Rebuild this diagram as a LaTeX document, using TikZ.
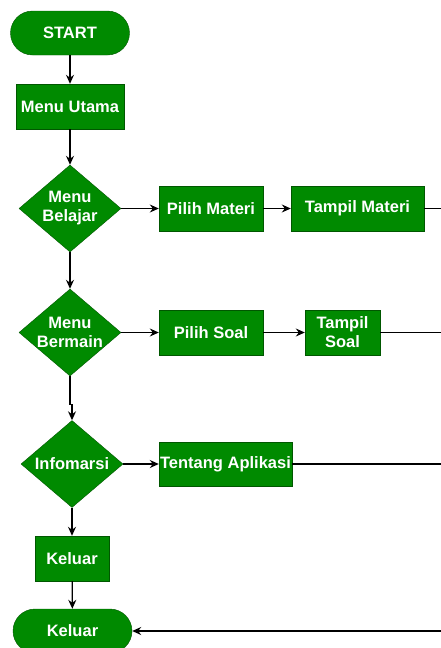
\documentclass[tikz,border=0pt]{standalone}
\usepackage{fontspec}
\setmainfont{Liberation Sans}
\usepackage{tikz}
\usetikzlibrary{shapes.geometric, arrows, arrows.meta}
\definecolor{boxgreen}{HTML}{008A00}
\definecolor{boxedge}{HTML}{005700}
\tikzstyle{block} = [rectangle, draw=boxedge, fill=boxgreen, text=white,
    font=\bfseries\fontsize{16.5}{19}\selectfont, align=center,
    inner sep=0pt, minimum height=45pt]
\tikzstyle{term} = [block, rounded corners=22pt,
    minimum width=119pt, minimum height=44pt]
\tikzstyle{decision} = [diamond, draw=boxedge, fill=boxgreen,
    inner sep=0pt, minimum width=102pt, minimum height=87pt]
\tikzstyle{dtext} = [text=white, font=\bfseries\fontsize{16.5}{19}\selectfont,
    align=center, inner sep=0pt]
\tikzstyle{line} = [draw, line width=1.3pt, -{Stealth[length=9pt, width=8pt, inset=3pt]}]
\tikzstyle{wire} = [draw, line width=1.3pt]

\begin{document}
\begin{tikzpicture}[x=1pt, y=1pt]
                \useasboundingbox (0,0) rectangle (441,-648);
                \node [term] at (70,-33) (start) {START};
                \node [block, minimum width=108pt] at (70,-106.5) (menuutama) {Menu Utama};
                \node [decision, label={[dtext]center:Menu\\Belajar}] at (70,-208.5) (menubelajar) {};
                \node [block, minimum width=104pt] at (211,-208.5) (pilihmateri) {Pilih Materi};
                \node [block, minimum width=133pt] at (357.5,-208.5) (tampilmateri) {Tampil Materi};
                \node [decision, label={[dtext]center:Menu\\Bermain}] at (70,-332.5) (menubermain) {};
                \node [block, minimum width=104pt] at (211,-332.5) (pilihsoal) {Pilih Soal};
                \node [block, minimum width=75pt] at (342.5,-332.5) (tampilsoal) {Tampil\\Soal};
                \node [decision, label={[dtext]center:Infomarsi}] at (72,-464) (info) {};
                \node [block, minimum width=133pt, minimum height=44pt] at (225.5,-464) (tentang) {Tentang Aplikasi};
                \node [block, minimum width=74pt] at (72,-558.5) (keluarbox) {Keluar};
                \node [term] at (72.5,-631) (keluar) {Keluar};
                \coordinate (outmateri) at (441,-208.5);
                \coordinate (outsoal) at (441,-332.5);
                \coordinate (outinfo) at (441,-464);
                \coordinate (inkeluar) at (441,-631);
                \path [line] (start) -- (menuutama);
                \path [line] (menuutama) -- (menubelajar);
                \path [line] (menubelajar) -- (menubermain);
                \path [line] (menubermain.south) -- ++(0,-28) -| (info.north);
                \path [line] (info) -- (keluarbox);
                \path [line] (keluarbox) -- (keluar);
                \path [line] (menubelajar) -- (pilihmateri);
                \path [line] (pilihmateri) -- (tampilmateri);
                \path [line] (menubermain) -- (pilihsoal);
                \path [line] (pilihsoal) -- (tampilsoal);
                \path [line] (info) -- (tentang);
                \path [wire] (tampilmateri) -- (outmateri);
                \path [wire] (tampilsoal) -- (outsoal);
                \path [wire] (tentang) -- (outinfo);
                \path [line] (inkeluar) -- (keluar);
            \end{tikzpicture}
\end{document}
